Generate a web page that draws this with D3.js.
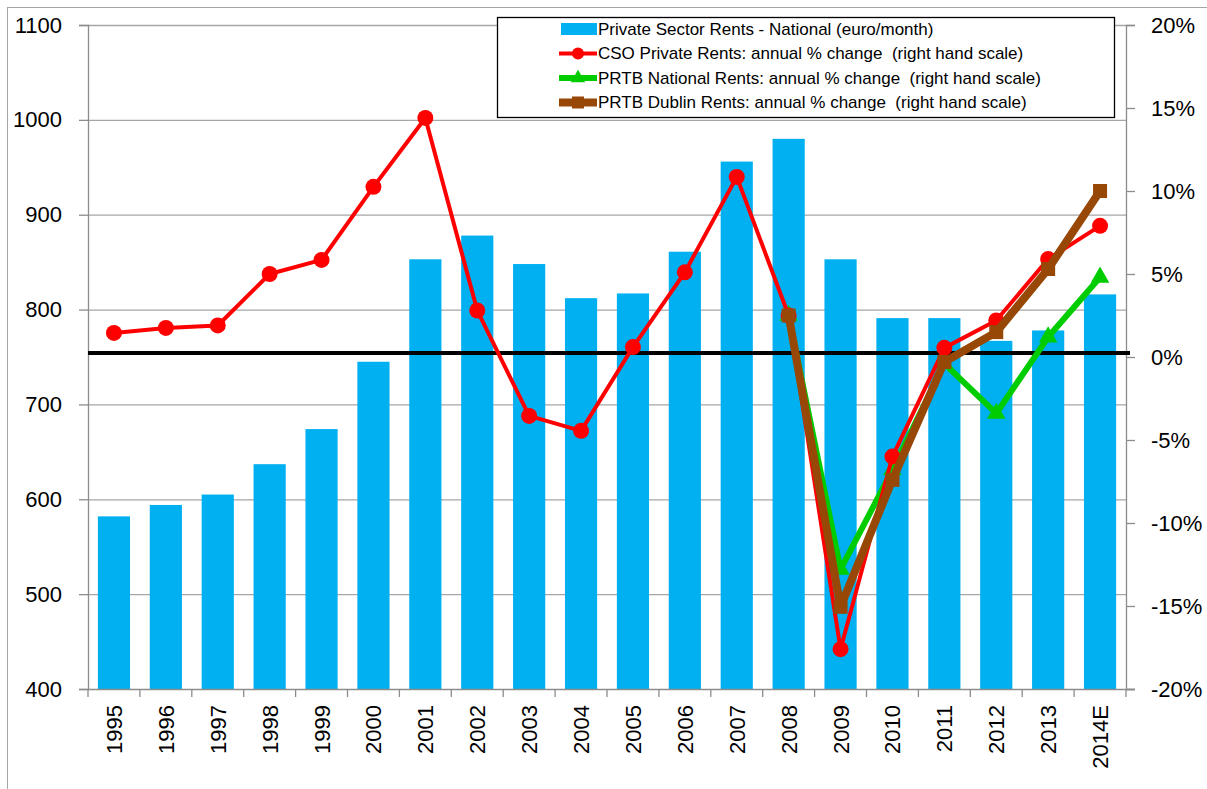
<!DOCTYPE html>
<html>
<head>
<meta charset="utf-8">
<script src="https://cdn.jsdelivr.net/npm/d3@7"></script>
<style>
  body { margin: 0; background: #fff; }
  text { font-family: "Liberation Sans", Arial, sans-serif; fill: #000; }
</style>
</head>
<body>
<div id="drawing_region"></div>
<script>
// data
var years = ["1995","1996","1997","1998","1999","2000","2001","2002","2003","2004",
             "2005","2006","2007","2008","2009","2010","2011","2012","2013","2014E"];
var rents = [582, 594, 605, 637, 674, 745, 853, 878, 848, 812,
             817, 861, 956, 980, 853, 791, 791, 767, 778, 816];
var csoChange = [1.45, 1.75, 1.9, 5.0, 5.85, 10.25, 14.4, 2.8, -3.55, -4.45,
                 0.6, 5.1, 10.85, 2.5, -17.6, -6.0, 0.55, 2.2, 5.9, 7.9];
var prtbNational = [null, null, null, null, null, null, null, null, null, null,
                    null, null, null, 2.5, -12.8, -6.8, -0.4, -3.4, 1.2, 4.8];
var prtbDublin = [null, null, null, null, null, null, null, null, null, null,
                  null, null, null, 2.5, -15.05, -7.4, -0.3, 1.5, 5.3, 10.0];
var leftTicks = [400, 500, 600, 700, 800, 900, 1000, 1100];
var rightTicks = [-20, -15, -10, -5, 0, 5, 10, 15, 20];
var legendLabels = ["Private Sector Rents - National (euro/month)",
                    "CSO Private Rents: annual % change  (right hand scale)",
                    "PRTB National Rents: annual % change  (right hand scale)",
                    "PRTB Dublin Rents: annual % change  (right hand scale)"];

var width = 1207, height = 789;
var margin = { top: 25, right: 81, bottom: 100, left: 88 };
var barColor = "#00b0f0", red = "#ff0000", green = "#00cc00", brown = "#974806";
var axisColor = "#8c8c8c";

var svg = d3.select("#drawing_region").append("svg")
    .attr("width", width).attr("height", height);

// outer chart frame
svg.append("rect")
    .attr("x", 7.5).attr("y", 7.5)
    .attr("width", width + 20).attr("height", height + 20)
    .attr("fill", "none").attr("stroke", "#a6a6a6");

var xScale = d3.scaleBand()
    .domain(years)
    .range([margin.left, width - margin.right])
    .paddingInner(0.38).paddingOuter(0.19);
var yLeft = d3.scaleLinear().domain([400, 1100]).range([height - margin.bottom, margin.top]);
var yRight = d3.scaleLinear().domain([-20, 20]).range([height - margin.bottom, margin.top]);

// gridlines
svg.append("g").selectAll("line").data(leftTicks.slice(1)).enter().append("line")
    .attr("x1", margin.left).attr("x2", width - margin.right)
    .attr("y1", d => yLeft(d) + 0.5).attr("y2", d => yLeft(d) + 0.5)
    .attr("stroke", "#a6a6a6").attr("stroke-width", 1.3);

// bars
svg.append("g").selectAll("rect").data(rents).enter().append("rect")
    .attr("x", (d, i) => xScale(years[i]))
    .attr("y", d => yLeft(d))
    .attr("width", xScale.bandwidth())
    .attr("height", d => yLeft(400) - yLeft(d))
    .attr("fill", barColor);

// left axis
var gl = svg.append("g")
    .attr("transform", "translate(" + margin.left + ",0)")
    .call(d3.axisLeft(yLeft).tickValues(leftTicks).tickSize(9).tickPadding(17)
        .tickFormat(d3.format("d")));
gl.selectAll("path, line").attr("stroke", axisColor).attr("stroke-width", 1.3);
gl.selectAll("text").style("font-size", "22px");

// right axis
var gr = svg.append("g")
    .attr("transform", "translate(" + (width - margin.right) + ",0)")
    .call(d3.axisRight(yRight).tickValues(rightTicks).tickSize(9).tickPadding(16)
        .tickFormat(d => d + "%"));
gr.selectAll("path, line").attr("stroke", axisColor).attr("stroke-width", 1.3);
gr.selectAll("text").style("font-size", "22px");

// bottom axis: ticks between categories
var step = xScale.step();
var xStart = margin.left;
var gb = svg.append("g");
gb.append("line")
    .attr("x1", margin.left).attr("x2", width - margin.right + 9)
    .attr("y1", yLeft(400) + 0.5).attr("y2", yLeft(400) + 0.5)
    .attr("stroke", axisColor).attr("stroke-width", 1.3);
gb.selectAll("line.tk").data(d3.range(years.length + 1)).enter().append("line")
    .attr("class", "tk")
    .attr("x1", i => xStart + i * step).attr("x2", i => xStart + i * step)
    .attr("y1", yLeft(400)).attr("y2", yLeft(400) + 8)
    .attr("stroke", axisColor).attr("stroke-width", 1.3);
gb.selectAll("text").data(years).enter().append("text")
    .attr("transform", d => "translate(" + (xScale(d) + xScale.bandwidth() / 2 + 8) + "," + (yLeft(400) + 16) + ") rotate(-90)")
    .attr("text-anchor", "end")
    .style("font-size", "22px")
    .text(d => d);

// zero line on right scale
svg.append("line")
    .attr("x1", margin.left).attr("x2", width - margin.right + 4)
    .attr("y1", yRight(0) - 4).attr("y2", yRight(0) - 4)
    .attr("stroke", "#000").attr("stroke-width", 4);

var cx = (d, i) => xScale(years[i]) + xScale.bandwidth() / 2;
var line = d3.line().defined(d => d !== null)
    .x(cx).y(d => yRight(d));

// PRTB National
svg.append("path").datum(prtbNational)
    .attr("d", line).attr("fill", "none")
    .attr("stroke", green).attr("stroke-width", 6).attr("stroke-linejoin", "round");
svg.append("g").selectAll("path").data(prtbNational.map((d, i) => [d, i]).filter(p => p[0] !== null))
    .enter().append("path")
    .attr("d", d3.symbol().type(d3.symbolTriangle).size(150))
    .attr("transform", p => "translate(" + cx(p[0], p[1]) + "," + yRight(p[0]) + ")")
    .attr("fill", green);

// CSO Private
svg.append("path").datum(csoChange)
    .attr("d", line).attr("fill", "none")
    .attr("stroke", red).attr("stroke-width", 4).attr("stroke-linejoin", "round");
svg.append("g").selectAll("circle").data(csoChange).enter().append("circle")
    .attr("cx", cx).attr("cy", d => yRight(d)).attr("r", 8)
    .attr("fill", red);

// PRTB Dublin
svg.append("path").datum(prtbDublin)
    .attr("d", line).attr("fill", "none")
    .attr("stroke", brown).attr("stroke-width", 8).attr("stroke-linejoin", "round");
svg.append("g").selectAll("rect").data(prtbDublin.map((d, i) => [d, i]).filter(p => p[0] !== null))
    .enter().append("rect")
    .attr("x", p => cx(p[0], p[1]) - 7).attr("y", p => yRight(p[0]) - 7)
    .attr("width", 14).attr("height", 14)
    .attr("fill", brown);

// legend
var lg = svg.append("g").attr("transform", "translate(497,17)");
lg.append("rect").attr("x", 0.5).attr("y", 0.5).attr("width", 617).attr("height", 100)
    .attr("fill", "#fff").attr("stroke", "#000").attr("stroke-width", 1.3);
var rowY = [12, 36.5, 61, 85.5];
lg.append("rect").attr("x", 64).attr("y", rowY[0] - 6).attr("width", 36).attr("height", 12).attr("fill", barColor);
var legendColors = [red, green, brown];
var legendWidths = [4, 6, 8];
legendColors.forEach((c, k) => {
    var y = rowY[k + 1];
    lg.append("line").attr("x1", 62).attr("x2", 100).attr("y1", y).attr("y2", y)
        .attr("stroke", c).attr("stroke-width", legendWidths[k]);
});
lg.append("circle").attr("cx", 81).attr("cy", rowY[1]).attr("r", 6).attr("fill", red);
lg.append("path").attr("d", d3.symbol().type(d3.symbolTriangle).size(90))
    .attr("transform", "translate(81," + rowY[2] + ")").attr("fill", green);
lg.append("rect").attr("x", 75).attr("y", rowY[3] - 6).attr("width", 12).attr("height", 12).attr("fill", brown);
lg.selectAll("text.lab").data(legendLabels).enter().append("text")
    .attr("class", "lab")
    .attr("x", 101).attr("y", (d, i) => rowY[i])
    .attr("dy", "0.35em")
    .style("font-size", "17px")
    .style("white-space", "pre")
    .text(d => d);
</script>
</body>
</html>
